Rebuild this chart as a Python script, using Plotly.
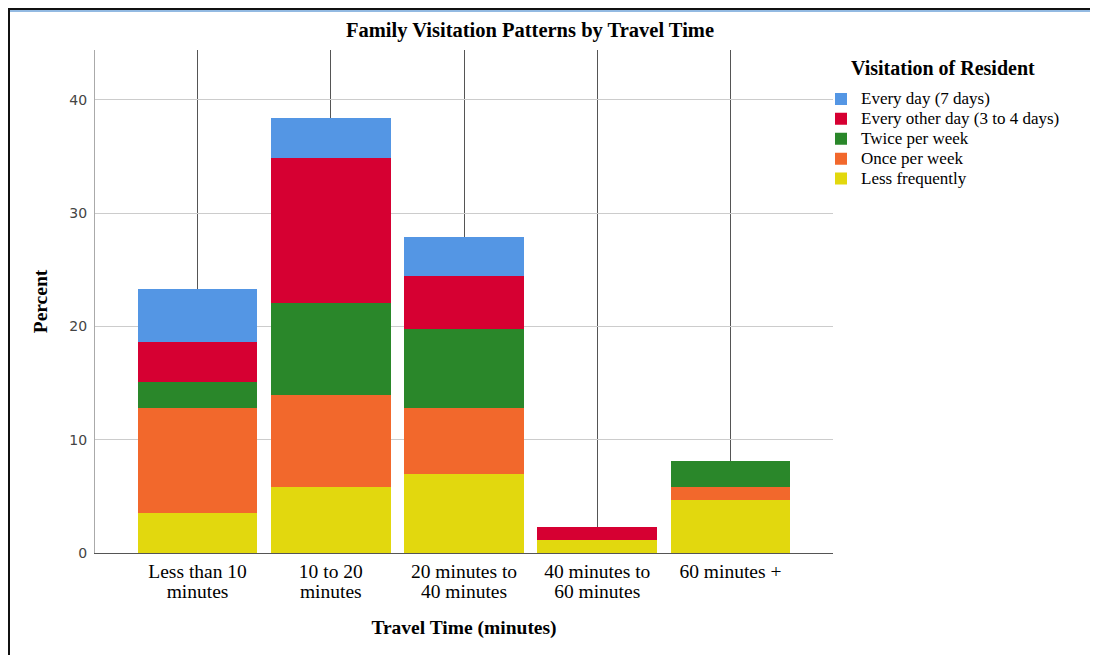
import plotly.graph_objects as go

categories = ["Less than 10<br>minutes", "10 to 20<br>minutes", "20 minutes to<br>40 minutes",
              "40 minutes to<br>60 minutes", "60 minutes +"]

less_frequently = [3.49, 5.81, 6.98, 1.16, 4.65]
once_per_week = [9.30, 8.14, 5.81, 0.0, 1.16]
twice_per_week = [2.33, 8.14, 6.98, 0.0, 2.33]
every_other_day = [3.49, 12.79, 4.65, 1.16, 0.0]
every_day = [4.65, 3.49, 3.49, 0.0, 0.0]

series = [
    ("Less frequently", less_frequently, "#E2D80E"),
    ("Once per week", once_per_week, "#F2682C"),
    ("Twice per week", twice_per_week, "#2A872A"),
    ("Every other day (3 to 4 days)", every_other_day, "#D60032"),
    ("Every day (7 days)", every_day, "#5496E4"),
]

serif = "Liberation Serif, Times New Roman, serif"


def big(text, size):
    return "<br>".join(f"<span style='font-size:{size}px'>{ln}</span>" for ln in text.split("<br>"))


fig = go.Figure()
for name, vals, col in series:
    fig.add_trace(go.Bar(x=list(range(len(categories))), y=vals, name=big(name, 17),
                         marker=dict(color=col, line=dict(width=0))))

# page offset of 8px (body margin)
OFF = 8
W, H = 1098 - OFF, 655 - OFF
L, R, T, B = 95, 833, 50, 553  # page coordinates of plot area
pw, ph = R - L, B - T


def px(x):
    return (x - L) / pw


def py(y):
    return (B - y) / ph


shapes = [
    dict(type="line", xref="paper", yref="paper", x0=px(8), x1=px(1110), y0=py(9), y1=py(9),
         line=dict(color="#111111", width=2)),
    dict(type="line", xref="paper", yref="paper", x0=px(10), x1=px(1110), y0=py(11), y1=py(11),
         line=dict(color="#6FA3D8", width=1.5)),
    dict(type="line", xref="paper", yref="paper", x0=px(9), x1=px(9), y0=py(8), y1=py(670),
         line=dict(color="#111111", width=2)),
]

legend_title = "<sup><span style='font-size:20px'><b>Visitation of Resident</b></span></sup>"

fig.update_layout(
    width=W, height=H,
    margin=dict(l=L - OFF, r=(W + OFF) - R, t=T - OFF, b=(H + OFF) - B, pad=0, autoexpand=False),
    paper_bgcolor="white", plot_bgcolor="white",
    barmode="stack", bargap=0.103,
    title=dict(text="<b>Family Visitation Patterns by Travel Time</b>",
               font=dict(family=serif, size=20.5, color="black"),
               x=px(530), xref="paper", xanchor="center", y=1 - (30 - OFF) / H, yanchor="middle"),
    xaxis=dict(tickmode="array", tickvals=list(range(len(categories))),
               ticktext=[big(c, 19.5) for c in categories],
               range=[-0.77, 4.77], showgrid=True, gridcolor="#555555", gridwidth=1,
               showline=True, linecolor="#555555", linewidth=1, ticks="",
               tickfont=dict(family=serif, size=15, color="black"),
               ticklabelstandoff=6,
               title=dict(text="<b>Travel Time (minutes)</b>", font=dict(family=serif, size=19.5, color="black"),
                          standoff=19),
               zeroline=False),
    yaxis=dict(range=[0, 44.4], tickvals=[0, 10, 20, 30, 40], showgrid=True, gridcolor="#CCCCCC",
               gridwidth=1, showline=True, linecolor="#AAAAAA", linewidth=1, ticks="",
               tickfont=dict(family="DejaVu Sans, sans-serif", size=14, color="#444444"),
               ticklabelstandoff=4,
               title=dict(text="<b>Percent</b>", font=dict(family=serif, size=19.5, color="black"),
                          standoff=16),
               zeroline=False),
    legend=dict(title=dict(text=legend_title, side="top center",
                           font=dict(family=serif, size=21.4, color="black")),
                font=dict(family=serif, size=13, color="black"),
                traceorder="reversed", x=px(821), xanchor="left", y=py(56.2), yanchor="top",
                bgcolor="rgba(0,0,0,0)", itemwidth=30, tracegroupgap=0),
    shapes=shapes,
    showlegend=True,
)

fig.write_html("out.html")
